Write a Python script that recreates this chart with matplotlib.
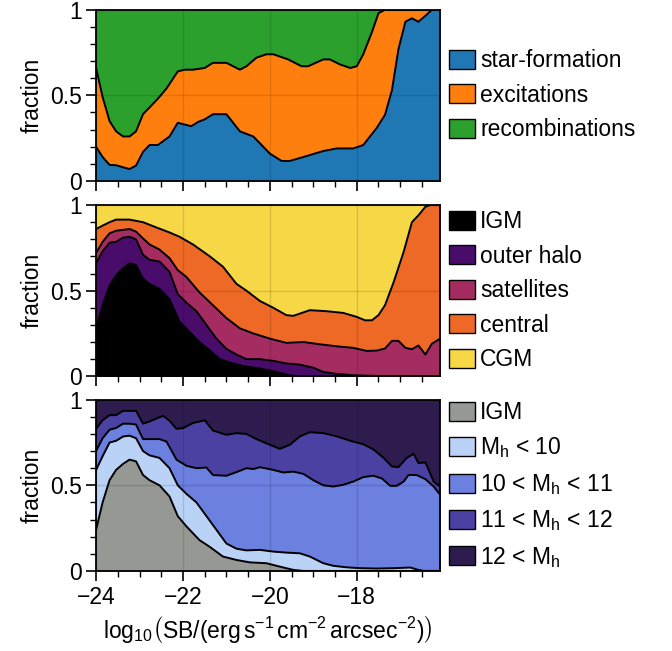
import numpy as np
import matplotlib
matplotlib.use("Agg")
import matplotlib.pyplot as plt
from matplotlib.patches import Patch
from matplotlib.ticker import MultipleLocator

plt.rcParams['font.family'] = ['Liberation Sans', 'DejaVu Sans']
plt.rcParams['mathtext.fontset'] = 'custom'
plt.rcParams['mathtext.rm'] = 'Liberation Sans'
plt.rcParams['mathtext.it'] = 'Liberation Sans:italic'
plt.rcParams['mathtext.default'] = 'regular'
plt.rcParams['font.size'] = 16.5

XMIN, XMAX = -24.0, -16.08

# ---- top panel: emission mechanism (cumulative boundaries) ----
sf_x = [-24, -23.85, -23.69, -23.54, -23.38, -23.23, -23.08, -22.92, -22.77, -22.58,
        -22.31, -22.12, -21.81, -21.65, -21.5, -21.31, -21.0, -20.69, -20.38, -20.0,
        -19.73, -19.54, -19.23, -18.77, -18.46, -18.08, -17.85, -17.54, -17.35, -17.19,
        -17.04, -16.88, -16.73, -16.58, -16.42, -16.27, -16.08]
sf_y = [0.20, 0.14, 0.094, 0.092, 0.08, 0.07, 0.09, 0.17, 0.21, 0.21,
        0.26, 0.34, 0.32, 0.345, 0.36, 0.39, 0.39, 0.29, 0.26, 0.16,
        0.117, 0.117, 0.14, 0.175, 0.19, 0.19, 0.21, 0.31, 0.386, 0.53,
        0.77, 0.93, 0.95, 0.93, 0.965, 1.0, 1.0]
exc_x = [-24, -23.85, -23.69, -23.54, -23.38, -23.23, -23.08, -22.92, -22.73, -22.58,
         -22.38, -22.12, -21.96, -21.77, -21.5, -21.31, -21.0, -20.69, -20.54, -20.31,
         -20.08, -19.92, -19.58, -19.27, -19.12, -18.77, -18.62, -18.38, -18.15, -18.0,
         -17.85, -17.65, -17.5, -17.35, -16.08]
exc_y = [0.66, 0.49, 0.35, 0.29, 0.26, 0.26, 0.29, 0.39, 0.44, 0.48,
         0.54, 0.64, 0.65, 0.65, 0.66, 0.69, 0.69, 0.65, 0.67, 0.72,
         0.74, 0.74, 0.71, 0.67, 0.67, 0.71, 0.71, 0.68, 0.66, 0.67,
         0.74, 0.87, 0.98, 1.0, 1.0]

# ---- middle panel: origin of emission (cumulative boundaries) ----
igm_x = [-24, -23.85, -23.69, -23.54, -23.38, -23.23, -23.08, -22.92, -22.77, -22.54,
         -22.31, -22.08, -21.85, -21.62, -21.38, -21.15, -20.92, -20.62, -20.23, -19.92,
         -19.54, -19.31, -16.08]
igm_y = [0.28, 0.415, 0.53, 0.59, 0.63, 0.66, 0.65, 0.57, 0.54, 0.51,
         0.45, 0.32, 0.26, 0.20, 0.15, 0.10, 0.08, 0.06, 0.045, 0.03,
         0.005, 0.0, 0.0]
halo_x = [-24, -23.85, -23.69, -23.54, -23.38, -23.23, -23.08, -22.92, -22.77, -22.54,
          -22.31, -22.12, -21.92, -21.69, -21.46, -21.23, -21.0, -20.77, -20.54, -20.23,
          -19.92, -19.62, -19.31, -19.0, -18.77, -18.46, -18.08, -17.54, -16.77, -16.5,
          -16.08]
halo_y = [0.66, 0.73, 0.78, 0.785, 0.81, 0.815, 0.80, 0.71, 0.68, 0.67,
          0.61, 0.48, 0.43, 0.38, 0.30, 0.22, 0.16, 0.127, 0.10, 0.10,
          0.09, 0.075, 0.068, 0.05, 0.025, 0.014, 0.006, 0.002, 0.002, 0.0,
          0.0]
sat_x = [-24, -23.85, -23.69, -23.54, -23.38, -23.23, -23.08, -22.92, -22.77, -22.54,
         -22.31, -22.12, -21.92, -21.62, -21.31, -21.0, -20.69, -20.38, -20.0, -19.62,
         -19.23, -18.85, -18.46, -18.08, -17.77, -17.54, -17.35, -17.19, -17.04, -16.88,
         -16.73, -16.58, -16.42, -16.27, -16.08]
sat_y = [0.72, 0.785, 0.835, 0.85, 0.855, 0.86, 0.845, 0.805, 0.77, 0.74,
         0.69, 0.62, 0.58, 0.49, 0.415, 0.34, 0.28, 0.25, 0.22, 0.195,
         0.20, 0.187, 0.175, 0.166, 0.148, 0.15, 0.162, 0.207, 0.207, 0.166,
         0.158, 0.18, 0.127, 0.19, 0.22]
cen_x = [-24, -23.85, -23.69, -23.54, -23.23, -22.92, -22.62, -22.31, -22.08, -21.77,
         -21.38, -21.08, -20.77, -20.54, -20.23, -19.92, -19.62, -19.46, -19.08, -18.69,
         -18.31, -18.0, -17.81, -17.65, -17.5, -17.35, -17.15, -16.92, -16.73, -16.58,
         -16.42, -16.31, -16.08]
cen_y = [0.86, 0.88, 0.90, 0.915, 0.915, 0.90, 0.87, 0.84, 0.815, 0.77,
         0.70, 0.64, 0.54, 0.50, 0.44, 0.40, 0.357, 0.353, 0.386, 0.38,
         0.37, 0.347, 0.327, 0.327, 0.357, 0.415, 0.55, 0.727, 0.90, 0.94,
         0.99, 1.0, 1.0]

# ---- bottom panel: halo mass (cumulative boundaries) ----
migm_x = [-24, -23.85, -23.69, -23.54, -23.38, -23.23, -23.08, -22.92, -22.77, -22.54,
          -22.31, -22.12, -21.92, -21.62, -21.38, -21.08, -20.77, -20.46, -20.08, -19.77,
          -19.46, -19.23, -16.08]
migm_y = [0.24, 0.40, 0.53, 0.59, 0.625, 0.65, 0.64, 0.56, 0.53, 0.50,
          0.435, 0.32, 0.26, 0.18, 0.14, 0.084, 0.064, 0.05, 0.045, 0.025,
          0.006, 0.0, 0.0]
m10_x = [-24, -23.85, -23.69, -23.54, -23.38, -23.23, -23.08, -22.92, -22.77, -22.54,
         -22.31, -22.12, -21.92, -21.69, -21.46, -21.23, -21.0, -20.77, -20.54, -20.23,
         -19.92, -19.62, -19.31, -19.08, -18.77, -18.54, -18.23, -17.92, -17.54, -17.15,
         -16.77, -16.58, -16.46, -16.08]
m10_y = [0.59, 0.67, 0.75, 0.76, 0.785, 0.79, 0.775, 0.70, 0.675, 0.66,
         0.60, 0.50, 0.45, 0.40, 0.32, 0.24, 0.16, 0.13, 0.12, 0.123,
         0.113, 0.107, 0.103, 0.084, 0.045, 0.03, 0.021, 0.016, 0.014, 0.016,
         0.02, 0.006, 0.0, 0.0]
m11_x = [-24, -23.85, -23.69, -23.54, -23.38, -23.23, -23.08, -22.92, -22.77, -22.54,
         -22.38, -22.15, -21.92, -21.69, -21.46, -21.31, -21.0, -20.77, -20.54, -20.38,
         -20.23, -19.92, -19.69, -19.46, -19.23, -19.0, -18.77, -18.54, -18.31, -18.08,
         -17.85, -17.62, -17.42, -17.23, -17.08, -16.92, -16.81, -16.62, -16.42, -16.23,
         -16.08]
m11_y = [0.70, 0.775, 0.825, 0.835, 0.86, 0.86, 0.855, 0.77, 0.77, 0.77,
         0.756, 0.65, 0.614, 0.60, 0.604, 0.56, 0.556, 0.577, 0.60, 0.595,
         0.606, 0.59, 0.575, 0.58, 0.567, 0.53, 0.50, 0.493, 0.503, 0.522,
         0.548, 0.556, 0.54, 0.497, 0.497, 0.522, 0.56, 0.56, 0.536, 0.493,
         0.445]
m12_x = [-24, -23.85, -23.69, -23.54, -23.38, -23.08, -22.92, -22.77, -22.46, -22.31,
         -22.15, -22.0, -21.77, -21.5, -21.31, -21.0, -20.77, -20.54, -20.31, -20.0,
         -19.77, -19.54, -19.31, -19.08, -18.77, -18.46, -18.15, -17.85, -17.62, -17.38,
         -17.19, -17.04, -16.85, -16.69, -16.58, -16.42, -16.23, -16.08]
m12_y = [0.83, 0.88, 0.91, 0.91, 0.935, 0.935, 0.86, 0.873, 0.906, 0.877,
         0.83, 0.834, 0.864, 0.88, 0.82, 0.795, 0.805, 0.80, 0.77, 0.737,
         0.713, 0.737, 0.786, 0.81, 0.805, 0.786, 0.76, 0.74, 0.71, 0.66,
         0.61, 0.606, 0.66, 0.684, 0.63, 0.634, 0.522, 0.493]

panels = [
    ([(sf_x, sf_y), (exc_x, exc_y)],
     ['#1f77b4', '#ff7f0e', '#2ca02c'],
     ['star-formation', 'excitations', 'recombinations']),
    ([(igm_x, igm_y), (halo_x, halo_y), (sat_x, sat_y), (cen_x, cen_y)],
     ['#000000', '#4a0c6b', '#a52c60', '#ed6925', '#f6d746'],
     ['IGM', 'outer halo', 'satellites', 'central', 'CGM']),
    ([(migm_x, migm_y), (m10_x, m10_y), (m11_x, m11_y), (m12_x, m12_y)],
     ['#969893', '#b9d2f6', '#6c80e0', '#4b41a3', '#2e1c4f'],
     ['IGM', r'M$_h$ < 10', r'10 < M$_h$ < 11', r'11 < M$_h$ < 12', r'12 < M$_h$']),
]

fig = plt.figure(figsize=(6.72, 6.51), dpi=100)
tops = [0.985, 0.685, 0.386]
h = 0.263
axes = []
for top in tops:
    axes.append(fig.add_axes([0.143, top - h, 0.512, h]))

for ax, (bounds, colors, labels) in zip(axes, panels):
    # top layer fills everything, lower layers painted over it
    ax.fill_between([XMIN, XMAX], 0, 1, color=colors[-1], lw=0, zorder=1)
    for (bx, by), c in reversed(list(zip(bounds, colors[:-1]))):
        ax.fill_between(bx, 0, by, color=c, lw=0, zorder=1)
    for bx, by in bounds:
        ax.plot(bx, by, color='k', lw=1.4, zorder=2)

    ax.set_xlim(XMIN, XMAX)
    ax.set_ylim(0, 1)
    ax.xaxis.set_major_locator(MultipleLocator(2))
    ax.xaxis.set_minor_locator(MultipleLocator(0.5))
    ax.set_yticks([0, 0.5, 1])
    ax.set_yticklabels(['0', '0.5', '1'])
    ax.yaxis.set_minor_locator(MultipleLocator(0.1))
    ax.tick_params(which='major', direction='out', length=7, width=1.2)
    ax.tick_params(which='minor', direction='out', length=4, width=1.0)
    ax.grid(which='major', color='k', alpha=0.12, lw=1.0)
    ax.set_axisbelow(False)
    for s in ax.spines.values():
        s.set_linewidth(1.3)
    ax.set_ylabel('fraction')

    handles = [Patch(facecolor=c, edgecolor='k', lw=1.0) for c in colors]
    ax.legend(handles, labels, loc='center left', bbox_to_anchor=(1.0, 0.5),
              frameon=False, borderaxespad=0.0, borderpad=0.4,
              handlelength=1.1, handleheight=0.9, handletextpad=0.25,
              labelspacing=0.5)

for ax in axes[:-1]:
    ax.tick_params(labelbottom=False)

axes[-1].set_xlabel(r'$\mathrm{log_{10}}\left(\mathrm{SB/(erg\,s^{-1}\,cm^{-2}\,arcsec^{-2})}\right)$')

fig.savefig('out.png', dpi=100)
